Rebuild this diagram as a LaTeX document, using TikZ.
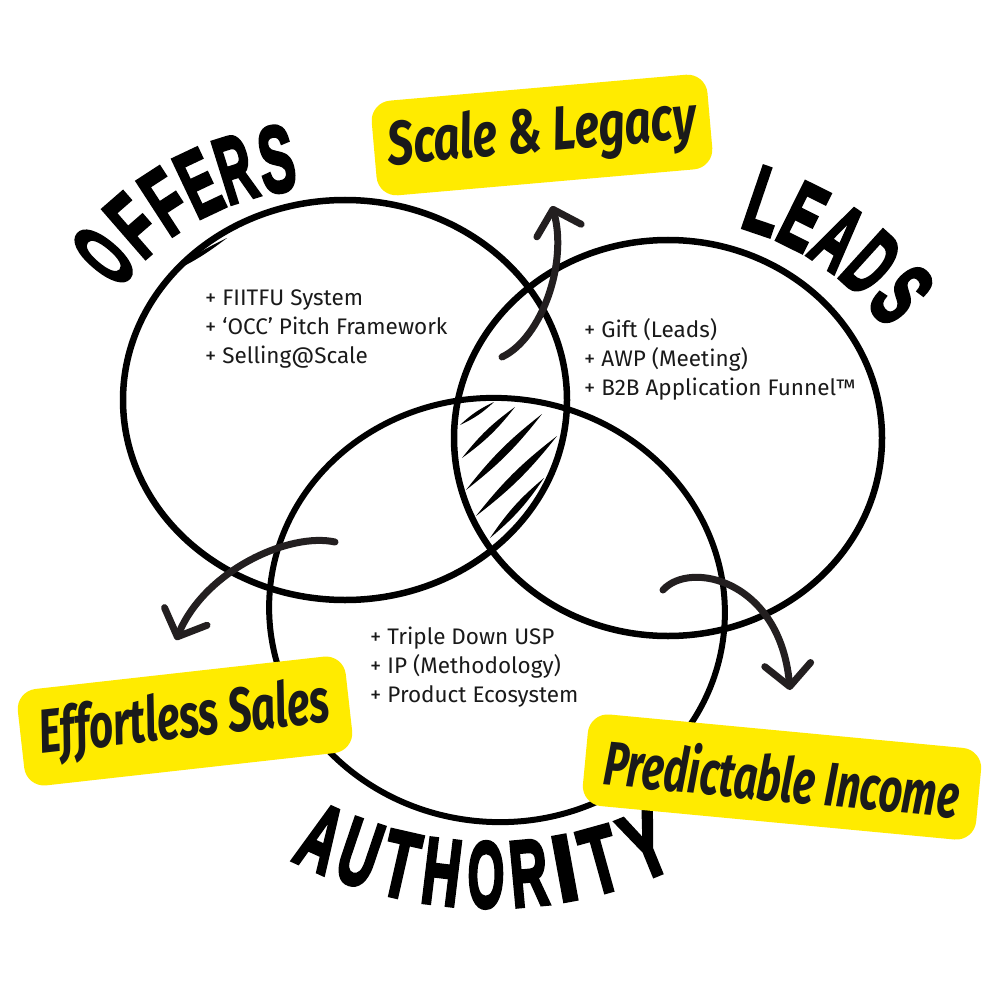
\documentclass[tikz,border=0pt]{standalone}
\usepackage{fontspec}
\usepackage{graphicx}
\usetikzlibrary{calc,arrows.meta}
\newfontfamily\bodyfont{Fira Sans}
\newfontfamily\headfont{Liberation Sans}[BoldFeatures={FakeBold=4}]
\newfontfamily\brushfont{Fira Sans}
\definecolor{hlyellow}{HTML}{FFEB00}
\definecolor{arrowink}{HTML}{231F20}
\definecolor{bodyink}{HTML}{1A1A1A}
\newcommand{\squeezeit}[2]{\scalebox{#1}[1]{#2}}
\begin{document}
\begin{tikzpicture}[x=1pt,y=-1pt,
  ring/.style={line width=6.5pt, draw=black},
  bodytext/.style={font=\bodyfont\fontsize{22.5}{29}\selectfont, text=bodyink, align=left, anchor=west, inner sep=0pt},
  headletter/.style={font=\headfont\bfseries\fontsize{94}{94}\selectfont, inner sep=0pt, anchor=center},
  tagbox/.style={fill=hlyellow, rounded corners=20pt, inner sep=0pt, text=bodyink, font=\brushfont\bfseries\itshape\fontsize{62}{62}\selectfont},
  curvearrow/.style={draw=arrowink, line width=7pt, line cap=round, -{Straight Barb[length=22pt,width=46pt,round]}},
  hatchstroke/.style={fill=black},
]
\useasboundingbox[fill=white] (0,0) rectangle (1000,1000);

% circles
\draw[ring] (345,400) ellipse [x radius=222, y radius=200];
\draw[ring] (668,438) ellipse [x radius=214, y radius=198];
\draw[ring, line width=6pt] (497,610) ellipse [x radius=228, y radius=212, rotate=-5];
% extra brush stroke on the Offers circle
\fill[hatchstroke] (170,273) to[bend left=6] (227,238) to[bend left=6] (170,273);

% hatching in the triple overlap
\fill[hatchstroke] (460,425) to[bend left=9] (494,402) to[bend left=9] (460,425);
\fill[hatchstroke] (462,458) to[bend left=8] (515,407) to[bend left=8] (462,458);
\fill[hatchstroke] (466,490) to[bend left=7] (542,414) to[bend left=7] (466,490);
\fill[hatchstroke] (476,516) to[bend left=7] (557,436) to[bend left=7] (476,516);
\fill[hatchstroke] (490,538) to[bend left=8] (544,478) to[bend left=8] (490,538);

% curved headings
\foreach \ch/\ang/\sc [count=\i] in {O/139.6/0.46, F/131.0/0.58, F/123.0/0.58, E/115.3/0.55, R/107.4/0.52, S/98.8/0.56}
  \node[headletter, rotate=\ang-90] (off\i) at ($(320,440)+(\ang:284pt)$) {\squeezeit{\sc}{\ch}};
\foreach \ch/\ang/\sc [count=\i] in {L/71.2/0.6, E/63.5/0.56, A/55.7/0.53, D/47.8/0.53, S/39.6/0.56}
  \node[headletter, rotate=\ang-90] (lead\i) at ($(668,488)+(\ang:303pt)$) {\squeezeit{\sc}{\ch}};
\foreach \ch/\p/\sc [count=\i] in {A/-24.5/0.56, U/-18.7/0.56, T/-12.8/0.6, H/-6.9/0.56, O/-0.7/0.5, R/5.3/0.56, I/10.4/0.9, T/15.5/0.62, Y/22.2/0.66}
  \node[headletter, rotate=\p] (auth\i) at ($(491,466)+({\p-90}:409pt)$) {\squeezeit{\sc}{\ch}};

% lists
\node[bodytext] (offerslist) at (205,329) {+ FIITFU System\\+ ‘OCC’ Pitch Framework\\+ Selling@Scale};
\node[bodytext] (leadslist) at (584,359) {+ Gift (Leads)\\+ AWP (Meeting)\\+ B2B Application Funnel™};
\node[bodytext] (authlist) at (370,667) {+ Triple Down USP\\+ IP (Methodology)\\+ Product Ecosystem};

% arrows
\coordinate (a1s) at (502,357);
\coordinate (a1e) at (552,206);
\coordinate (a2s) at (335,542);
\coordinate (a2e) at (176,640);
\coordinate (a3s) at (663,590);
\coordinate (a3e) at (790,690);
\draw[curvearrow] (a1s) .. controls (542,338) and (568,262) .. (a1e);
\draw[curvearrow] (a2s) .. controls (290,532) and (205,570) .. (a2e);
\draw[curvearrow] (a3s) .. controls (690,560) and (780,580) .. (a3e);

% yellow tags
\node[tagbox, rotate=5, minimum width=337pt, minimum height=95pt] (scaletag) at (542,135) {\squeezeit{0.74}{Scale \& Legacy}};
\node[tagbox, rotate=6.4, minimum width=330pt, minimum height=97pt] (salestag) at (185,721) {\squeezeit{0.68}{Effortless Sales}};
\node[tagbox, rotate=-5.4, minimum width=395pt, minimum height=92pt] (incometag) at (782,777) {\squeezeit{0.67}{Predictable Income}};
\end{tikzpicture}
\end{document}
